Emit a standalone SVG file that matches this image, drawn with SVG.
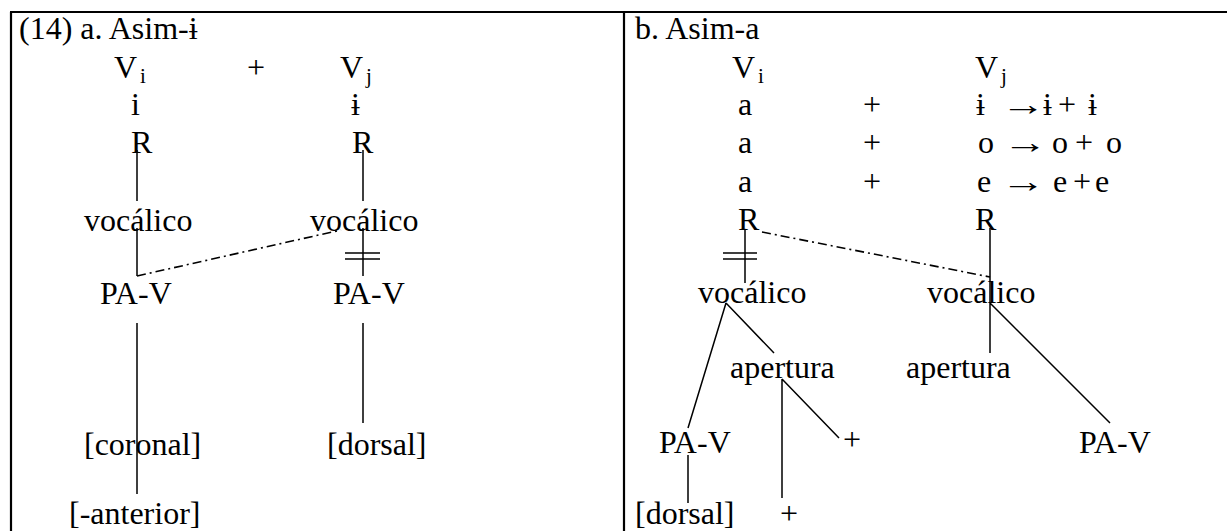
<svg xmlns="http://www.w3.org/2000/svg" width="1227" height="531" viewBox="0 0 1227 531">
<style>
text{font-family:"Liberation Serif","Times New Roman",serif;font-size:32px;fill:#000}
.sub{font-size:21px}
.arr{text-anchor:middle}
.ln{stroke:#000;stroke-width:1.5;fill:none}
.dd{stroke:#000;stroke-width:1.6;fill:none;stroke-dasharray:9 4 2 4}
.bd{stroke:#000;stroke-width:2.2;fill:none}
</style>
<rect width="1227" height="531" fill="#fff"/>
<g id="table">
<path class="bd" d="M10 12H1227M11 12V531M624 12V531"/>
</g>
<g id="connectors">
<path class="ln" d="M137 150V201M137 228V276M363 150V201M363 228V276M345 253H380M345 259H380M137 323V494M363 323V423"/>
<path class="dd" d="M137 276L341 230"/>
<path class="ln" d="M745 230V283M723 253H757M723 259H757M990 228V353M726 303L688 428M726 303L774 353M990 303L1110 423M782 379V498M782 379L839 438M688 455V503"/>
<path class="dd" d="M762 232L990 277"/>
</g>
<g id="panel-a">
<g id="a-title"><text x="19" y="39">(14) a. Asim-ɨ</text></g>
<g id="a-Vi"><text x="114" y="78">V<tspan class="sub" dx="3" dy="5">i</tspan></text></g>
<g id="a-plus"><text x="247" y="78">+</text></g>
<g id="a-Vj"><text x="340" y="78">V<tspan class="sub" dx="3" dy="5">j</tspan></text></g>
<g id="a-i"><text x="131" y="115">i</text></g>
<g id="a-ibar"><text x="351" y="115">ɨ</text></g>
<g id="a-R1"><text x="131" y="153">R</text></g>
<g id="a-R2"><text x="352" y="153">R</text></g>
<g id="a-voc1"><text x="84" y="231">vocálico</text></g>
<g id="a-voc2"><text x="310" y="231">vocálico</text></g>
<g id="a-pav1"><text x="100" y="304">PA-V</text></g>
<g id="a-pav2"><text x="333" y="304">PA-V</text></g>
<g id="a-coronal"><text x="84" y="455">[coronal]</text></g>
<g id="a-dorsal"><text x="327" y="455">[dorsal]</text></g>
<g id="a-anterior"><text x="69" y="524">[-anterior]</text></g>
</g>
<g id="panel-b">
<g id="b-title"><text x="635" y="39">b. Asim-a</text></g>
<g id="b-Vi"><text x="732" y="78">V<tspan class="sub" dx="3" dy="5">i</tspan></text></g>
<g id="b-Vj"><text x="975" y="78">V<tspan class="sub" dx="3" dy="5">j</tspan></text></g>
<g id="b-row1"><text x="738" y="115">a</text><text x="863" y="115">+</text><text x="976" y="115">ɨ</text><text class="arr" transform="translate(1023 115) scale(1.4 1)">→</text><text x="1043" y="115">ɨ</text><text x="1058" y="115">+</text><text x="1088" y="115">ɨ</text></g>
<g id="b-row2"><text x="738" y="153">a</text><text x="863" y="153">+</text><text x="978" y="153">o</text><text class="arr" transform="translate(1025 153) scale(1.4 1)">→</text><text x="1052" y="153">o</text><text x="1075" y="153">+</text><text x="1106" y="153">o</text></g>
<g id="b-row3"><text x="738" y="192">a</text><text x="863" y="192">+</text><text x="977" y="192">e</text><text class="arr" transform="translate(1023 192) scale(1.4 1)">→</text><text x="1053" y="192">e</text><text x="1073" y="192">+</text><text x="1095" y="192">e</text></g>
<g id="b-R1"><text x="738" y="230">R</text></g>
<g id="b-R2"><text x="975" y="230">R</text></g>
<g id="b-voc1"><text x="698" y="303">vocálico</text></g>
<g id="b-voc2"><text x="927" y="303">vocálico</text></g>
<g id="b-ap1"><text x="730" y="378">apertura</text></g>
<g id="b-ap2"><text x="906" y="378">apertura</text></g>
<g id="b-pav1"><text x="659" y="453">PA-V</text></g>
<g id="b-plus1"><text x="843" y="450">+</text></g>
<g id="b-pav2"><text x="1079" y="453">PA-V</text></g>
<g id="b-dorsal"><text x="635" y="524">[dorsal]</text></g>
<g id="b-plus2"><text x="780" y="524">+</text></g>
</g>
</svg>
